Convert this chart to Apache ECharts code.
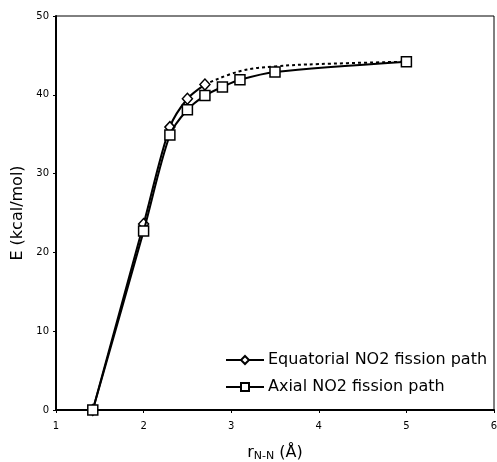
<!DOCTYPE html>
<html><head><meta charset="utf-8">
<script src="https://cdn.jsdelivr.net/npm/echarts@6/dist/echarts.min.js"></script>
<style>html,body{margin:0;padding:0;background:#fff}#c{width:497px;height:462px}</style>
</head><body><div id="c"></div>
<script>
const seriesNames = ['Equatorial NO2 fission path', 'Axial NO2 fission path'];
const equatorial = [[1.42,0],[2.0,23.6],[2.3,35.9],[2.5,39.5],[2.7,41.3]];
const equatorialDotted = [[2.7,41.3],[3.1,43.0],[3.5,43.6],[4.0,43.9],[5.0,44.2]];
const axial = [[1.42,0],[2.0,22.7],[2.3,34.9],[2.5,38.1],[2.7,39.9],[2.9,41.0],[3.1,41.9],[3.5,42.9],[5.0,44.2]];
const xTicks = [1,2,3,4,5,6];
const yTicks = [0,10,20,30,40,50];

const FONT = '"DejaVu Sans", "Liberation Sans", Arial, sans-serif';
const chart = echarts.init(document.getElementById('c'), null, {renderer:'canvas'});
chart.setOption({
  backgroundColor:'#fff',
  animation:false,
  grid:{left:56,right:3,top:16,bottom:52,show:true,borderColor:'#000',borderWidth:1,containLabel:false,outerBoundsMode:'none'},
  legend:{
    orient:'vertical', left:220, top:346, itemGap:9, itemWidth:38, itemHeight:10,
    data:seriesNames,
    textStyle:{fontFamily:FONT,fontSize:16,lineHeight:18,color:'#000',padding:[0,0,0,-1]}
  },
  xAxis:{
    type:'value', min:xTicks[0], max:xTicks[xTicks.length-1], interval:1,
    axisLine:{show:true,onZero:false,lineStyle:{color:'#000',width:2}},
    axisTick:{show:true,inside:false,length:3,lineStyle:{color:'#000'}},
    axisLabel:{fontFamily:FONT,fontSize:10,color:'#000',margin:11},
    splitLine:{show:false},
    name:'{r|r}{s|N-N}{r| (Å)}', nameLocation:'middle', nameGap:34,
    nameTextStyle:{rich:{r:{fontFamily:FONT,fontSize:16,color:'#000'},s:{fontFamily:FONT,fontSize:11,color:'#000',verticalAlign:'bottom',padding:[7,0,0,0]}}}
  },
  yAxis:{
    type:'value', min:yTicks[0], max:yTicks[yTicks.length-1], interval:10,
    axisLine:{show:true,onZero:false,lineStyle:{color:'#000',width:2}},
    axisTick:{show:true,inside:false,length:3,lineStyle:{color:'#000'}},
    axisLabel:{fontFamily:FONT,fontSize:10,color:'#000',margin:7},
    splitLine:{show:false},
    name:'E (kcal/mol)', nameLocation:'middle', nameGap:30,
    nameTextStyle:{fontFamily:FONT,fontSize:16,color:'#000'}
  },
  series:[
    {name:'equatorial-extrapolation', type:'line', data:equatorialDotted, smooth:0.4, symbol:'none',
     lineStyle:{color:'#000',width:2,type:[3,3]}, silent:true, z:1},
    {name:seriesNames[0], type:'line', data:equatorial, smooth:0.3, symbol:'diamond', symbolSize:[10,11],
     itemStyle:{color:'#fff',borderColor:'#000',borderWidth:1.5},
     lineStyle:{color:'#000',width:2}, z:2},
    {name:seriesNames[1], type:'line', data:axial, smooth:0.3, symbol:'rect', symbolSize:10,
     itemStyle:{color:'#fff',borderColor:'#000',borderWidth:1.5},
     lineStyle:{color:'#000',width:2}, z:3}
  ]
});
</script></body></html>
